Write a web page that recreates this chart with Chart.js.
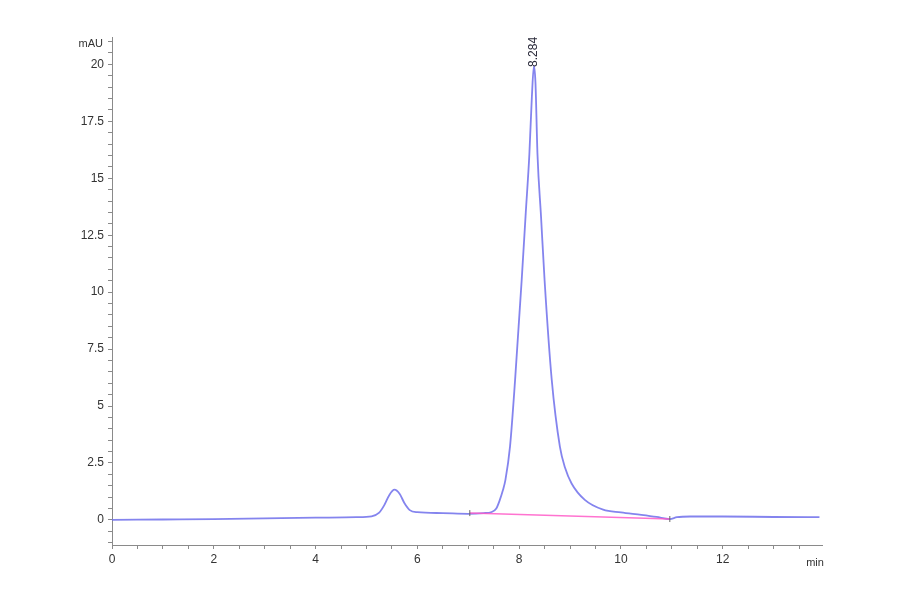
<!DOCTYPE html>
<html>
<head>
<meta charset="utf-8">
<script src="https://cdn.jsdelivr.net/npm/chart.js@4/dist/chart.umd.min.js"></script>
<style>
  html, body { margin: 0; padding: 0; background: #fff; }
  #wrap { width: 900px; height: 594px; }
</style>
</head>
<body>
<div id="wrap"><canvas id="chrom"></canvas></div>
<script>
// retention time (min) and detector signal (mAU)
const times = [
    0, 1, 2, 3, 4, 4.8, 5.1, 5.25, 5.35, 5.45, 5.55, 5.65, 5.75, 5.85, 6.0,
    6.5, 7.0, 7.3, 7.46, 7.55, 7.62, 7.68, 7.73, 7.82, 7.92, 8.05, 8.13, 8.2,
    8.25, 8.29, 8.32, 8.36, 8.43, 8.5, 8.64, 8.8, 8.9, 9.03, 9.29, 9.65, 10.0,
    10.4, 10.7, 10.96, 11.1, 11.36, 12, 13, 13.9,
];
const signal = [
    0, 0.02, 0.04, 0.07, 0.1, 0.12, 0.16, 0.32, 0.65, 1.1, 1.33, 1.15, 0.72, 0.43, 0.34,
    0.3, 0.27, 0.3, 0.35, 0.5, 0.88, 1.3, 1.76, 3.22, 6.15, 10.55, 13.5, 16.04,
    18.6, 19.93, 19.2, 16.04, 13.3, 10.5, 6.15, 3.22, 2.3, 1.6, 0.88, 0.45, 0.33,
    0.22, 0.13, 0.04, 0.12, 0.15, 0.15, 0.13, 0.12,
];

// integration baseline under the main peak
const baseTimes = [7.03, 10.96];
const baseSignal = [0.3, 0.04];

// peak annotation
const peakTime = 8.29;
const peakHeight = 19.93;
const peakLabel = '8.284';

const axisColor = '#8a8a8a';
const labelFont = { family: 'Liberation Sans, Arial, sans-serif', size: 12 };

// axis unit labels + retention time label over the peak
const extraText = {
    id: 'extraText',
    afterDraw(chart) {
        const ctx = chart.ctx;
        const xs = chart.scales.x;
        const ys = chart.scales.y;
        ctx.save();
        ctx.fillStyle = '#333';
        ctx.font = '11px Liberation Sans, Arial, sans-serif';
        ctx.textAlign = 'right';
        ctx.textBaseline = 'middle';
        ctx.fillText('mAU', ys.right - 9, ys.top + 7);
        ctx.textAlign = 'center';
        ctx.fillText('min', xs.right - 7, xs.top + 18);

        const px = xs.getPixelForValue(peakTime);
        const py = ys.getPixelForValue(peakHeight);
        ctx.translate(px, py + 1);
        ctx.rotate(-Math.PI / 2);
        ctx.textAlign = 'left';
        ctx.font = '12px Liberation Sans, Arial, sans-serif';
        ctx.fillStyle = '#2a2a3a';
        ctx.fillText(peakLabel, 0, 0);
        ctx.restore();
    },
};

function createChromatogram() {
    const ctx = document.getElementById('chrom').getContext('2d');
    new Chart(ctx, {
        type: 'line',
        data: {
            datasets: [
                {
                    label: 'baseline',
                    data: baseTimes.map((t, i) => ({ x: t, y: baseSignal[i] })),
                    borderColor: 'rgba(255, 90, 200, 0.85)',
                    borderWidth: 1.5,
                    pointStyle: 'line',
                    rotation: 90,
                    pointRadius: 3,
                    pointBorderColor: '#666',
                    pointBorderWidth: 1,
                },
                {
                    label: 'signal',
                    data: times.map((t, i) => ({ x: t, y: signal[i] })),
                    borderColor: 'rgba(110, 110, 235, 0.85)',
                    borderWidth: 1.8,
                    pointRadius: 0,
                    cubicInterpolationMode: 'monotone',
                },
            ],
        },
        options: {
            responsive: true,
            maintainAspectRatio: false,
            animation: false,
            layout: { padding: { top: 37, right: 78, left: 0, bottom: 0 } },
            plugins: {
                legend: { display: false },
                tooltip: { enabled: false },
            },
            scales: {
                x: {
                    type: 'linear',
                    min: 0,
                    max: 13.95,
                    afterBuildTicks: (scale) => {
                        const t = [];
                        for (let i = 0; i <= 27; i++) t.push({ value: i * 0.5 });
                        scale.ticks = t;
                    },
                    afterFit: (scale) => { scale.height = 49; },
                    grid: {
                        drawOnChartArea: false,
                        tickLength: 4,
                        tickColor: axisColor,
                    },
                    border: { color: axisColor, width: 1 },
                    ticks: {
                        autoSkip: false,
                        maxRotation: 0,
                        padding: 3,
                        color: '#333',
                        font: labelFont,
                        callback: (v) => (Math.round(v * 2) % 4 === 0 ? String(v) : ''),
                    },
                },
                y: {
                    type: 'linear',
                    min: -1.1,
                    max: 21.2,
                    afterBuildTicks: (scale) => {
                        const t = [];
                        for (let i = -2; i <= 42; i++) t.push({ value: i * 0.5 });
                        scale.ticks = t;
                    },
                    afterFit: (scale) => { scale.width = 112; },
                    grid: {
                        drawOnChartArea: false,
                        tickLength: 4,
                        tickColor: axisColor,
                    },
                    border: { color: axisColor, width: 1 },
                    ticks: {
                        autoSkip: false,
                        padding: 4,
                        color: '#333',
                        font: labelFont,
                        callback: (v) => (Math.round(v * 2) % 5 === 0 ? String(v) : ''),
                    },
                },
            },
        },
        plugins: [extraText],
    });
}

document.addEventListener('DOMContentLoaded', function () {
    createChromatogram();
});
</script>
</body>
</html>
